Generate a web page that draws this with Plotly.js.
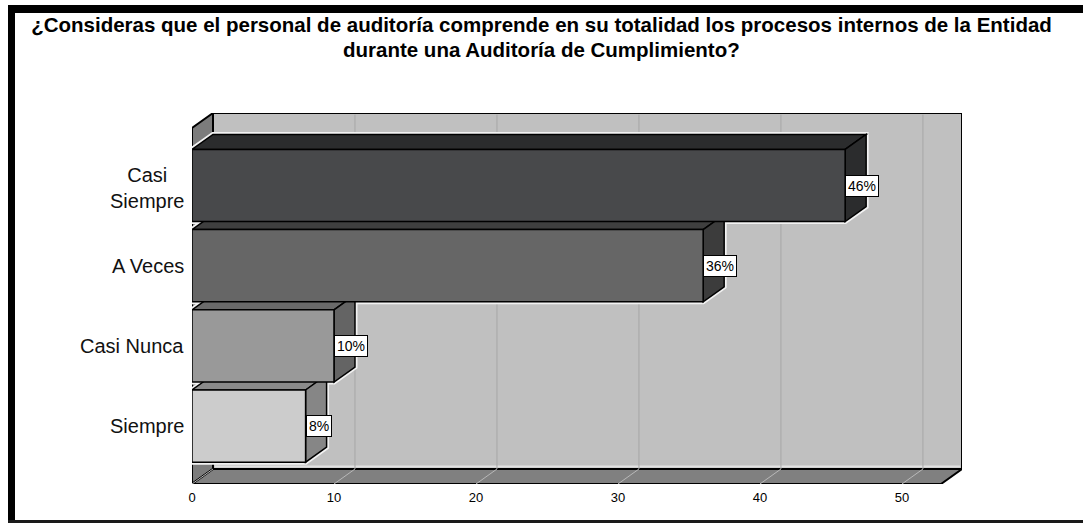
<!DOCTYPE html>
<html>
<head>
<meta charset="utf-8">
<script src="https://cdn.plot.ly/plotly-3.0.1.min.js"></script>
<style>
  html, body { margin: 0; padding: 0; background: #ffffff; }
  #wrap { position: relative; width: 1083px; height: 524px; overflow: hidden; }
  #chart { position: absolute; left: 0; top: 0; width: 1083px; height: 524px; }
  .frame { position: absolute; background: #000; }
</style>
</head>
<body>
<div id="wrap">
  <div id="chart"></div>
  <div class="frame" style="left:8px; top:5px; width:1075px; height:8px;"></div>
  <div class="frame" style="left:8px; top:5px; width:7px; height:518px;"></div>
  <div class="frame" style="left:8px; top:520px; width:1075px; height:3px; background:#1a1a1a;"></div>
</div>
<script>
// ---- data ----
const titleLine1 = '¿Consideras que el personal de auditoría comprende en su totalidad los procesos internos de la Entidad';
const titleLine2 = 'durante una Auditoría de Cumplimiento?';
const categories = ['Casi<br>Siempre', 'A Veces', 'Casi Nunca', 'Siempre'];
const values = [46, 36, 10, 8];
const valueLabels = ['46%', '36%', '10%', '8%'];
const xTicks = [0, 10, 20, 30, 40, 50];
const frontColors = ['#48494b', '#666666', '#999999', '#cccccc'];
const topColors = ['#2b2c2d', '#3f3f3f', '#6a6a6a', '#8a8a8a'];
const sideColors = ['#2b2c2d', '#3c3c3c', '#646464', '#868686'];

// ---- layout geometry ----
const W = 1083, H = 524;
const M = { l: 192, r: 121, t: 113, b: 40 };
const plotW = W - M.l - M.r, plotH = H - M.t - M.b;
const xMax = 54.23;                 // x range (front plane units)
const yTop = -0.904, yBot = 3.722;  // y range (category index units, reversed)
const pxX = plotW / xMax, pxY = plotH / (yBot - yTop);
const DX = 21 / pxX, DY = 15 / pxY; // 3-D depth offset
const barW = 0.9;
const yFloorBack = yBot - DY;
const xFloorFront = xMax - DX;
const yWallFrontTop = yTop + DY;
const FONT = 'Liberation Sans, Arial, sans-serif';

const shapes = [];
function poly(pts, fill, lineColor, lw, closed) {
  const d = 'M' + pts.map(p => p[0] + ',' + p[1]).join('L') + (closed === false ? '' : 'Z');
  shapes.push({ type: 'path', xref: 'x', yref: 'y', path: d, fillcolor: fill,
    line: { color: lineColor, width: lw }, layer: 'below' });
}
function seg(x0, y0, x1, y1, color, lw) {
  shapes.push({ type: 'line', xref: 'x', yref: 'y', x0: x0, y0: y0, x1: x1, y1: y1,
    line: { color: color, width: lw }, layer: 'below' });
}

// back wall
poly([[DX, yTop], [xMax, yTop], [xMax, yFloorBack], [DX, yFloorBack]], '#c0c0c0', '#000', 2);
// inner highlight of back wall
poly([[DX + 0.12, yFloorBack - 0.03], [xMax - 0.12, yFloorBack - 0.03]], 'rgba(0,0,0,0)', '#e2e2e2', 2, false);
// left wall
poly([[0, yWallFrontTop], [DX, yTop], [DX, yFloorBack], [0, yBot]], '#7c7c7c', '#000', 2);
// floor
poly([[0, yBot], [xFloorFront, yBot], [xMax, yFloorBack], [DX, yFloorBack]], '#808080', '#000', 2);
// gridlines on wall and floor
xTicks.forEach(t => {
  if (t > 0) seg(t + DX, yTop + 0.02, t + DX, yFloorBack, '#a6a6a6', 1);
  seg(t, yBot, t + DX, yFloorBack, '#b8b8b8', 1);
});
// light halo around each bar
values.forEach((v, i) => {
  const yt = i - barW / 2, yb = i + barW / 2;
  poly([[0, yt], [DX, yt - DY], [v + DX, yt - DY], [v + DX, yb - DY], [v, yb], [0, yb]],
    'rgba(0,0,0,0)', '#f2f2f2', 5);
});
// bar top and side faces (front faces are the bar trace, drawn above)
values.forEach((v, i) => {
  const yt = i - barW / 2, yb = i + barW / 2;
  poly([[0, yt], [DX, yt - DY], [v + DX, yt - DY], [v, yt]], topColors[i], '#000', 1.5);
  poly([[v, yt], [v + DX, yt - DY], [v + DX, yb - DY], [v, yb]], sideColors[i], '#000', 1.5);
});

const annotations = [];
// category labels
categories.forEach((c, i) => {
  const n = c.split('<br>').length;
  annotations.push({ xref: 'paper', yref: 'y', x: 0, y: i, xanchor: 'right', yanchor: 'middle',
    xshift: -6, yshift: n > 1 ? -2.5 : 0, text: c, showarrow: false,
    font: { family: FONT, size: 20, color: '#111' } });
});
// value labels
values.forEach((v, i) => {
  annotations.push({ xref: 'x', yref: 'y', x: v, y: i, xanchor: 'left', yanchor: 'middle',
    text: valueLabels[i], showarrow: false, bgcolor: '#ffffff', bordercolor: '#000000',
    borderwidth: 1, borderpad: 2,
    font: { family: FONT, size: 14, color: '#000' } });
});
// title line 2
annotations.push({ xref: 'paper', yref: 'paper', x: (W / 2 - M.l) / plotW, y: (H - M.b - 49) / plotH,
  xanchor: 'center', yanchor: 'middle', text: titleLine2, showarrow: false,
  font: { family: FONT, size: 20.5, weight: 'bold', color: '#000' } });

const traces = [{
  type: 'bar', orientation: 'h', x: values, y: categories.map((c, i) => i), width: barW,
  marker: { color: frontColors, line: { color: '#000', width: 1.5 } },
  hoverinfo: 'skip', showlegend: false
}];

const layout = {
  width: W, height: H,
  margin: M,
  paper_bgcolor: '#ffffff', plot_bgcolor: 'rgba(0,0,0,0)',
  showlegend: false,
  title: { text: titleLine1, x: 0.5, xref: 'container', xanchor: 'center',
    y: 1 - 25 / H, yref: 'container', yanchor: 'middle',
    font: { family: FONT, size: 20.5, weight: 'bold', color: '#000' } },
  xaxis: { range: [0, xMax], tickvals: xTicks, showgrid: false, zeroline: false, showline: false,
    ticks: '', ticklabelstandoff: 4,
    tickfont: { family: FONT, size: 13, color: '#000' }, fixedrange: true },
  yaxis: { range: [yBot, yTop], showgrid: false, zeroline: false, showline: false,
    showticklabels: false, ticks: '', fixedrange: true },
  shapes: shapes,
  annotations: annotations,
  bargap: 0.1
};

Plotly.newPlot('chart', traces, layout, { displayModeBar: false, staticPlot: true });
</script>
</body>
</html>
